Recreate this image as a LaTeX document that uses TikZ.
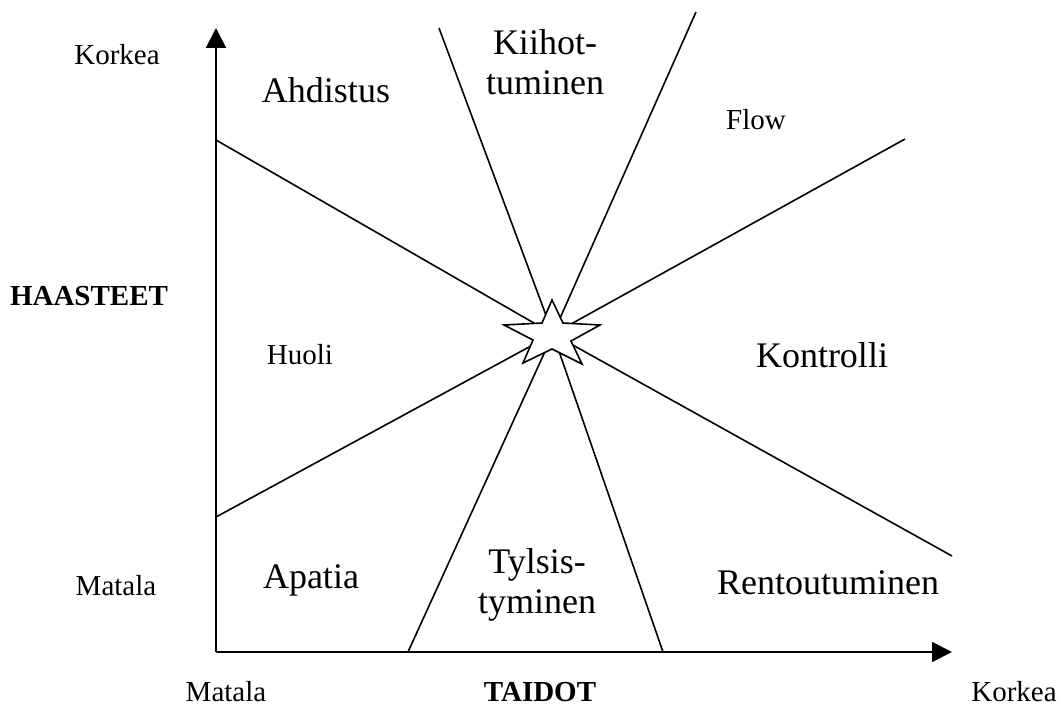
\documentclass[tikz,border=0pt]{standalone}
\usepackage{fontspec}
\setmainfont{Liberation Serif}
\usetikzlibrary{arrows.meta}
\begin{document}
\begin{tikzpicture}[x=1pt,y=-1pt,
  ray/.style={line width=1.6pt},
  axisline/.style={line width=1.8pt,-{Triangle[length=20pt,width=20pt]}},
  small/.style={font=\fontsize{29}{34}\selectfont, inner sep=0pt},
  big/.style={font=\fontsize{36}{40}\selectfont, inner sep=0pt, align=center},
  bolds/.style={font=\fontsize{29}{34}\selectfont\bfseries, inner sep=0pt}]
\useasboundingbox (0,0) rectangle (1061,709);

% axes
\coordinate (o) at (216,652);
\coordinate (ytop) at (216,28);
\coordinate (xend) at (952,652);
\draw[axisline] (o) -- (ytop);
\draw[axisline] (o) -- (xend);

% rays meeting at the star
\coordinate (c) at (553,334);
\coordinate (r1) at (216,140);
\coordinate (r2) at (216,517);
\coordinate (r3) at (439,28);
\coordinate (r4) at (696,12);
\coordinate (r5) at (905,139);
\coordinate (r6) at (952,556);
\coordinate (r7) at (408,652);
\coordinate (r8) at (663,652);
\foreach \r in {r1,r2,r3,r4,r5,r6,r7,r8}
  \draw[ray] (\r) -- (c);

% star
\filldraw[fill=white, line width=1.6pt, line join=miter]
  (552,300) -- (563,323) -- (600,325) -- (571,341) -- (582,364) --
  (552,349) -- (523,363) -- (533,340) -- (504,325) -- (542,323) -- cycle;

% axis labels
\node[small, anchor=base] (korkeaY) at (117,65) {Korkea};
\node[small, anchor=base] (matalaY) at (116,595) {Matala};
\node[bolds, anchor=base] (haasteet) at (89,305) {HAASTEET};
\node[small, anchor=base] (matalaX) at (226,701) {Matala};
\node[bolds, anchor=base] (taidot) at (540,701) {TAIDOT};
\node[small, anchor=base] (korkeaX) at (1014,701) {Korkea};

% region labels
\node[big] (ahdistus) at (326,90) {Ahdistus};
\node[big] (kiihot) at (545,62) {Kiihot-\\tuminen};
\node[small] (flow) at (756,120) {Flow};
\node[small] (huoli) at (300,355) {Huoli};
\node[big] (kontrolli) at (822,355) {Kontrolli};
\node[big] (apatia) at (311,580) {Apatia};
\node[big] (tylsis) at (537,585) {Tylsis-\\tyminen};
\node[big] (rento) at (828,583) {Rentoutuminen};
\end{tikzpicture}
\end{document}
